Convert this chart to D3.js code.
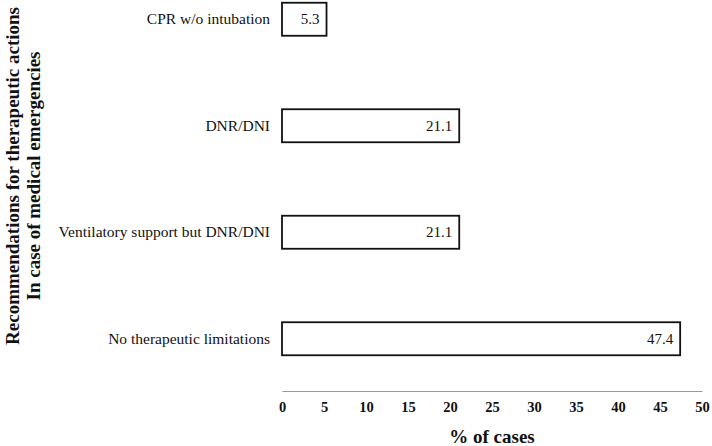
<!DOCTYPE html>
<html>
<head>
<meta charset="utf-8">
<script src="https://cdn.jsdelivr.net/npm/d3@7"></script>
<style>
  body { margin: 0; background: #fff; }
  svg text { font-family: "Liberation Serif", "Times New Roman", serif; fill: #111; }
</style>
</head>
<body>
<div id="canvas"></div>
<script>
"use strict";

let svgWidth = 712;
let svgHeight = 446;

/* Data */
let categories = ["CPR w/o intubation", "DNR/DNI", "Ventilatory support but DNR/DNI", "No therapeutic limitations"];
let percentValues = [5.3, 21.1, 21.1, 47.4];
let xTicks = [0, 5, 10, 15, 20, 25, 30, 35, 40, 45, 50];

let rows = categories.map((c, i) => ({ name: c, value: percentValues[i] }));

let svg = d3.select("#canvas")
  .append("svg")
  .attr("width", svgWidth)
  .attr("height", svgHeight);

/* Scales */
let xScale = d3.scaleLinear()
  .domain([0, 50])
  .range([282, 702]);

let yScale = d3.scaleBand()
  .domain(categories)
  .range([-34, 392])
  .paddingInner(0.69)
  .paddingOuter(0.345);

/* Bars */
svg.selectAll("rect.bar")
  .data(rows)
  .enter()
  .append("rect")
  .attr("class", "bar")
  .attr("x", xScale(0))
  .attr("y", d => yScale(d.name))
  .attr("width", d => xScale(d.value) - xScale(0))
  .attr("height", yScale.bandwidth())
  .attr("fill", "#fff")
  .attr("stroke", "#111")
  .attr("stroke-width", 1.8);

/* Value labels */
svg.selectAll("text.val")
  .data(rows)
  .enter()
  .append("text")
  .attr("class", "val")
  .attr("x", d => xScale(d.value) - 7)
  .attr("y", d => yScale(d.name) + yScale.bandwidth() / 2)
  .attr("text-anchor", "end")
  .attr("dominant-baseline", "central")
  .attr("font-size", "15px")
  .text(d => d.value.toFixed(1));

/* Y axis (category labels) */
let yAxis = svg.append("g")
  .attr("transform", `translate(${xScale(0)},0)`)
  .call(d3.axisLeft(yScale).tickSize(0).tickPadding(12));
yAxis.select(".domain").remove();
yAxis.selectAll("text")
  .attr("font-size", "15.5px");

/* X axis */
let xAxis = svg.append("g")
  .attr("transform", "translate(0,391)")
  .call(d3.axisBottom(xScale).tickValues(xTicks).tickSize(0).tickPadding(11));
xAxis.select(".domain")
  .attr("stroke", "#999")
  .attr("stroke-width", 1);
xAxis.selectAll("text")
  .attr("font-size", "14.5px")
  .attr("font-weight", "bold");

/* Axis titles */
svg.append("text")
  .attr("x", xScale(25))
  .attr("y", 443)
  .attr("text-anchor", "middle")
  .attr("font-size", "19px")
  .attr("font-weight", "bold")
  .text("% of cases");

let yTitle = svg.append("text")
  .attr("transform", "translate(12,176) rotate(-90)")
  .attr("text-anchor", "middle")
  .attr("font-size", "19px")
  .attr("font-weight", "bold");
yTitle.append("tspan")
  .attr("x", 0)
  .attr("dy", "0.35em")
  .text("Recommendations for therapeutic actions");
yTitle.append("tspan")
  .attr("x", 0)
  .attr("dy", "21")
  .text("In case of medical emergencies");
</script>
</body>
</html>
